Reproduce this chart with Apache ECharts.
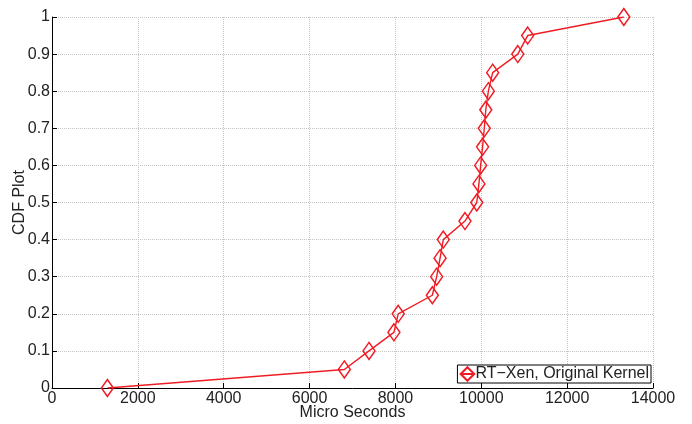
<!DOCTYPE html>
<html>
<head>
<meta charset="utf-8">
<script src="https://cdn.jsdelivr.net/npm/echarts@6/dist/echarts.min.js"></script>
<style>
  html, body { margin: 0; padding: 0; background: #fff; }
  #chart { width: 692px; height: 424px; }
</style>
</head>
<body>
<div id="chart"></div>
<script>
// CDF points: x in micro seconds, y = cumulative fraction
let micro_sec = [1290, 6810, 7385, 7965, 8065, 8860, 8960, 9040, 9115, 9620, 9895,
                 9945, 9985, 10030, 10070, 10105, 10165, 10265, 10850, 11080, 13320];
let cdf = [0, 0.05, 0.1, 0.15, 0.2, 0.25, 0.3, 0.35, 0.4, 0.45, 0.5,
           0.55, 0.6, 0.65, 0.7, 0.75, 0.8, 0.85, 0.9, 0.95, 1];
let series_name = 'RT\u2212Xen, Original Kernel';

let points = micro_sec.map((x, i) => [x, cdf[i]]);

let red = '#f01c24';
let font = 'Liberation Sans, Arial, sans-serif';

let myChart = echarts.init(document.getElementById('chart'));

let option = {
    animation: false,
    backgroundColor: '#fff',
    grid: { left: 52, right: 39, top: 17, bottom: 36, outerBoundsMode: 'none', containLabel: false },
    legend: {
        data: [series_name],
        right: 41,
        bottom: 41,
        orient: 'horizontal',
        backgroundColor: '#fff',
        borderColor: '#000',
        borderWidth: 1,
        borderRadius: 0,
        padding: [1, 2, 1, 2],
        itemWidth: 14,
        itemHeight: 17,
        itemGap: 2,
        textStyle: { fontFamily: font, fontSize: 16, color: '#222', padding: [0, 0, 0, -4] }
    },
    xAxis: {
        type: 'value',
        min: 0, max: 14000, interval: 2000,
        name: 'Micro Seconds',
        nameLocation: 'middle',
        nameGap: 17,
        nameMoveOverlap: false,
        nameTextStyle: { fontFamily: font, fontSize: 16, color: '#222' },
        axisLine: { show: true, lineStyle: { color: '#000', width: 1 } },
        axisTick: { show: true, inside: true, length: 5, lineStyle: { color: '#000' } },
        axisLabel: { fontFamily: font, fontSize: 16, color: '#222', margin: 3,
                     formatter: v => String(v) },
        splitLine: { show: true, lineStyle: { type: 'dotted', color: '#c4c4c4' } }
    },
    yAxis: {
        type: 'value',
        min: 0, max: 1, interval: 0.1,
        name: 'CDF Plot',
        nameLocation: 'middle',
        nameGap: 24,
        nameMoveOverlap: false,
        nameTextStyle: { fontFamily: font, fontSize: 16, color: '#222' },
        axisLine: { show: true, lineStyle: { color: '#000', width: 1 } },
        axisTick: { show: true, inside: true, length: 5, lineStyle: { color: '#000' } },
        axisLabel: { fontFamily: font, fontSize: 16, color: '#222', margin: 2,
                     formatter: v => String(Math.round(v * 10) / 10) },
        splitLine: { show: true, lineStyle: { type: 'dotted', color: '#c4c4c4' } }
    },
    series: [
        {
            name: series_name,
            type: 'line',
            data: points,
            symbol: 'diamond',
            symbolSize: [12, 17],
            showAllSymbol: true,
            lineStyle: { color: red, width: 1.4 },
            itemStyle: { color: 'rgba(0,0,0,0)', borderColor: red, borderWidth: 1.5 }
        }
    ]
};
myChart.setOption(option);
</script>
</body>
</html>
